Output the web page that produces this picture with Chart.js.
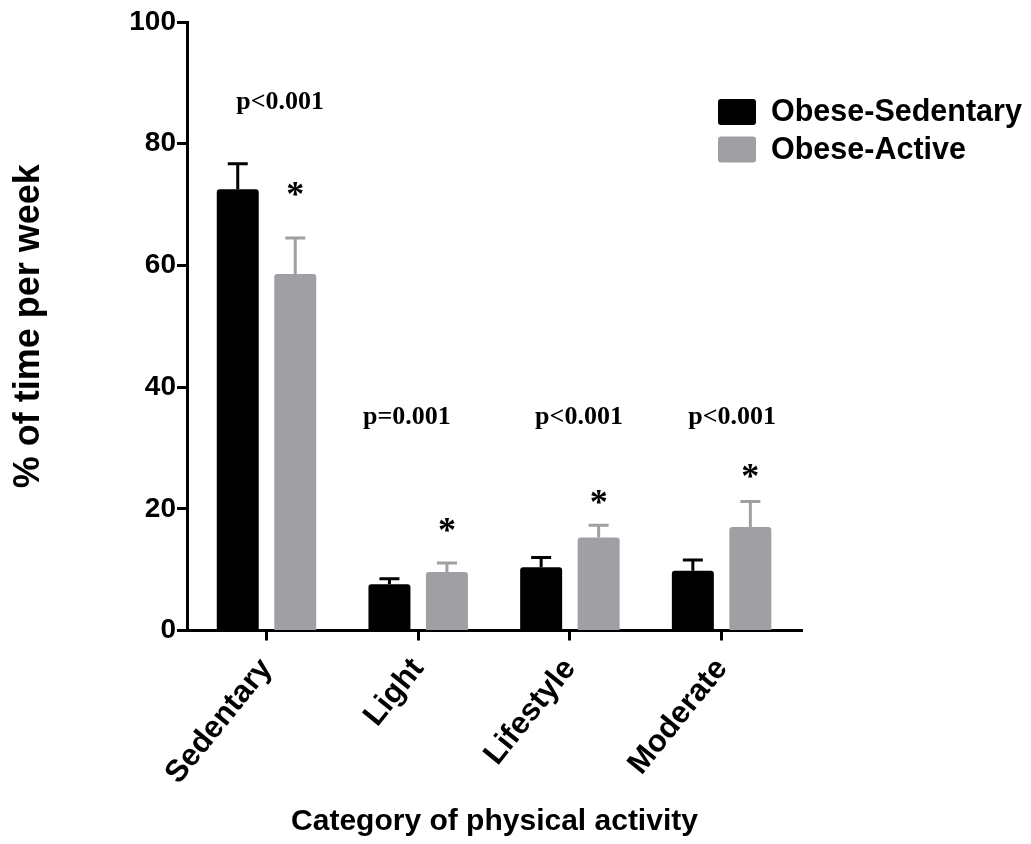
<!DOCTYPE html>
<html>
<head>
<meta charset="utf-8">
<script src="https://cdn.jsdelivr.net/npm/chart.js@4.4.1/dist/chart.umd.min.js"></script>
<style>
  html, body { margin: 0; padding: 0; background: #ffffff; }
  #wrap { width: 1031px; height: 844px; position: relative; }
</style>
</head>
<body>
<div id="wrap"><canvas id="c" width="1031" height="844"></canvas></div>
<script>
// ---- data ----
const categories = ['Sedentary', 'Light', 'Lifestyle', 'Moderate'];
const seriesNames = ['Obese-Sedentary', 'Obese-Active'];
const sedentaryMean = [72.5, 7.6, 10.4, 9.8];
const sedentaryUpper = [76.7, 8.5, 12.0, 11.6];
const activeMean = [58.6, 9.6, 15.3, 17.0];
const activeUpper = [64.5, 11.1, 17.3, 21.2];
const yTicks = [0, 20, 40, 60, 80, 100];
const pLabels = ['p<0.001', 'p=0.001', 'p<0.001', 'p<0.001'];
const pLabelAt = [[0.09, 86.8], [0.925, 35.1], [2.06, 35.1], [3.07, 35.1]];
const starAt = [72.6, 17.3, 22.0, 26.2];

const BLACK = '#000000';
const GRAY = '#a0a0a4';

const toPoints = arr => arr.map((v, i) => ({ x: i, y: v }));

const errorBars = {
  id: 'errorBars',
  afterDatasetsDraw(chart) {
    const ctx = chart.ctx;
    const ys = chart.scales.y;
    const uppers = [sedentaryUpper, activeUpper];
    chart.data.datasets.forEach((ds, di) => {
      const meta = chart.getDatasetMeta(di);
      meta.data.forEach((bar, i) => {
        const top = ys.getPixelForValue(uppers[di][i]);
        ctx.save();
        ctx.strokeStyle = ds.backgroundColor;
        ctx.lineWidth = 3;
        ctx.beginPath();
        ctx.moveTo(bar.x, bar.y);
        ctx.lineTo(bar.x, top);
        ctx.moveTo(bar.x - 10, top);
        ctx.lineTo(bar.x + 10, top);
        ctx.stroke();
        ctx.restore();
      });
    });
  }
};

const annotations = {
  id: 'annotations',
  afterDraw(chart) {
    const ctx = chart.ctx;
    const xs = chart.scales.x, ys = chart.scales.y;
    ctx.save();
    ctx.fillStyle = '#000';
    ctx.textAlign = 'center';
    ctx.textBaseline = 'middle';
    ctx.font = 'bold 26px "Liberation Serif", "Times New Roman", serif';
    pLabels.forEach((t, i) => {
      ctx.fillText(t, xs.getPixelForValue(pLabelAt[i][0]), ys.getPixelForValue(pLabelAt[i][1]));
    });
    ctx.font = 'bold 36px "Liberation Serif", "Times New Roman", serif';
    ctx.textBaseline = 'alphabetic';
    const grayMeta = chart.getDatasetMeta(1);
    starAt.forEach((v, i) => {
      ctx.fillText('*', grayMeta.data[i].x, ys.getPixelForValue(v) + 17);
    });
    ctx.restore();
  }
};

const customLegend = {
  id: 'customLegend',
  afterDraw(chart) {
    const ctx = chart.ctx;
    ctx.save();
    ctx.font = 'bold 30.5px "Liberation Sans", Arial, sans-serif';
    ctx.textBaseline = 'middle';
    ctx.textAlign = 'left';
    chart.data.datasets.forEach((ds, i) => {
      const y = 99 + i * 37.5;
      ctx.fillStyle = ds.backgroundColor;
      ctx.beginPath();
      ctx.roundRect(718, y, 38, 26, 3);
      ctx.fill();
      ctx.fillStyle = '#000';
      ctx.fillText(ds.label, 771, y + 14);
    });
    ctx.restore();
  }
};

new Chart(document.getElementById('c'), {
  type: 'bar',
  data: {
    datasets: [
      { label: seriesNames[0], data: toPoints(sedentaryMean), backgroundColor: BLACK,
        borderRadius: { topLeft: 3, topRight: 3 }, borderSkipped: 'bottom' },
      { label: seriesNames[1], data: toPoints(activeMean), backgroundColor: GRAY,
        borderRadius: { topLeft: 3, topRight: 3 }, borderSkipped: 'bottom' }
    ]
  },
  options: {
    responsive: false,
    animation: false,
    devicePixelRatio: 1,
    categoryPercentage: 0.758,
    barPercentage: 0.73,
    layout: { padding: { top: 22, right: 229, left: 0, bottom: 0 } },
    plugins: { legend: { display: false }, tooltip: { enabled: false } },
    scales: {
      x: {
        type: 'linear',
        offset: false,
        bounds: 'data',
        min: -0.524,
        max: 3.53,
        afterBuildTicks: s => { s.ticks = categories.map((c, i) => ({ value: i })); },
        afterFit: s => { s.height = 213.5; },
        grid: { display: true, offset: false, drawOnChartArea: false, drawTicks: true, tickLength: 10, tickWidth: 3, tickColor: '#000' },
        border: { display: true, color: '#000', width: 3 },
        ticks: {
          callback: v => categories[v],
          minRotation: 51, maxRotation: 51,
          color: '#000', padding: 11,
          font: { family: '"Liberation Sans", Arial, sans-serif', size: 31, weight: 'bold' }
        },
        title: {
          display: true, text: 'Category of physical activity', color: '#000',
          font: { family: '"Liberation Sans", Arial, sans-serif', size: 30, weight: 'bold' },
          padding: { top: 0, bottom: 4 }
        }
      },
      y: {
        min: 0, max: 100,
        afterBuildTicks: s => { s.ticks = yTicks.map(v => ({ value: v })); },
        afterFit: s => { s.width = 187; },
        grid: { display: true, drawOnChartArea: false, drawTicks: true, tickLength: 10, tickWidth: 3, tickColor: '#000' },
        border: { display: true, color: '#000', width: 3 },
        ticks: {
          color: '#000', padding: 1,
          font: { family: '"Liberation Sans", Arial, sans-serif', size: 28, weight: 'bold' }
        },
        title: {
          display: true, text: '% of time per week', color: '#000',
          font: { family: '"Liberation Sans", Arial, sans-serif', size: 36, weight: 'bold' },
          padding: { top: 7, bottom: 0 }
        }
      }
    }
  },
  plugins: [errorBars, annotations, customLegend]
});
</script>
</body>
</html>
